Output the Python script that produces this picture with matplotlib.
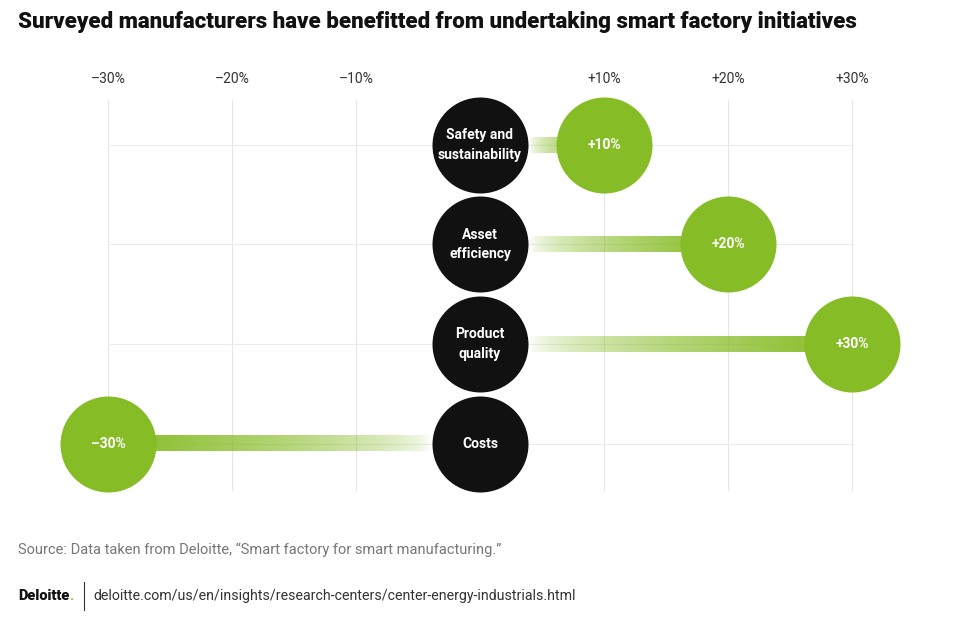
import numpy as np
import matplotlib.pyplot as plt
from matplotlib.colors import to_rgb

categories = ["Safety and\nsustainability", "Asset\nefficiency", "Product\nquality", "Costs"]
values = [10, 20, 30, -30]
value_labels = ["+10%", "+20%", "+30%", "\u201330%"]
ticks = [-30, -20, -10, 10, 20, 30]
tick_labels = ["\u201330%", "\u201320%", "\u201310%", "+10%", "+20%", "+30%"]

GREEN = "#86bc25"
BLACK = "#111111"
plt.rcParams['font.family'] = ['Roboto', 'DejaVu Sans']

fig = plt.figure(figsize=(9.6, 6.24), dpi=100)
ax = fig.add_axes([0, 0, 1, 1])
px = 12.4  # pixels per percent
row = 99.5  # pixels per row
ax.set_xlim(-480 / px, 480 / px)
ax.set_ylim((624 - 145) / row, -145 / row)
ax.axis("off")

# grid
for t, lab in zip(ticks, tick_labels):
    ax.plot([t, t], [-0.45, 3.47], color="#e6e6e6", lw=0.8, zorder=0)
    ax.text(t, -0.66, lab, ha="center", va="center", fontsize=10, color="#333333")
for i in range(len(categories)):
    ax.plot([-30, 30], [i, i], color="#ececec", lw=0.8, zorder=0)

# gradient bars
rgb = np.array(to_rgb(GREEN))
for i, v in enumerate(values):
    n = 256
    alpha = np.linspace(0, 1, n) ** 0.6
    img = np.zeros((1, n, 4))
    img[0, :, :3] = rgb
    img[0, :, 3] = alpha
    start = 4 if v > 0 else -4
    if v < 0:
        img = img[:, ::-1, :]
    x0, x1 = sorted([start, v])
    ax.imshow(img, extent=[x0, x1, i + 0.08, i - 0.08], aspect="auto",
              interpolation="bilinear", zorder=1)

s = (48 * 72 / 100 * 2) ** 2
ys = np.arange(len(categories))
ax.scatter(np.zeros(len(categories)), ys, s=s, color=BLACK, zorder=3, linewidths=0)
ax.scatter(values, ys, s=s, color=GREEN, zorder=3, linewidths=0)
for i, (c, v, lab) in enumerate(zip(categories, values, value_labels)):
    ax.text(0, i, c, ha="center", va="center", color="white", fontsize=10,
            fontweight="bold", linespacing=1.5, zorder=4)
    ax.text(v, i, lab, ha="center", va="center", color="white", fontsize=10,
            fontweight="bold", zorder=4)

fig.text(18 / 960, 1 - 22 / 624, "Surveyed manufacturers have benefitted from undertaking smart factory initiatives",
         fontsize=16, fontweight="heavy", color=BLACK, va="center", ha="left")
fig.text(18 / 960, 1 - 550 / 624, "Source: Data taken from Deloitte, \u201cSmart factory for smart manufacturing.\u201d",
         fontsize=10.5, color="#777777", va="center", ha="left")
fig.text(18 / 960, 1 - 596 / 624, "Deloitte", fontsize=10.5, fontweight="heavy", color=BLACK,
         va="center", ha="left")
fig.text(69 / 960, 1 - 596 / 624, ".", fontsize=10.5, fontweight="bold", color=GREEN,
         va="center", ha="left")
fig.add_artist(plt.Line2D([84 / 960, 84 / 960], [1 - 582 / 624, 1 - 610 / 624],
                          color="#333333", lw=0.8))
fig.text(93 / 960, 1 - 596 / 624, "deloitte.com/us/en/insights/research-centers/center-energy-industrials.html",
         fontsize=10.2, color="#333333", va="center", ha="left")

fig.savefig("out.png", dpi=100)
